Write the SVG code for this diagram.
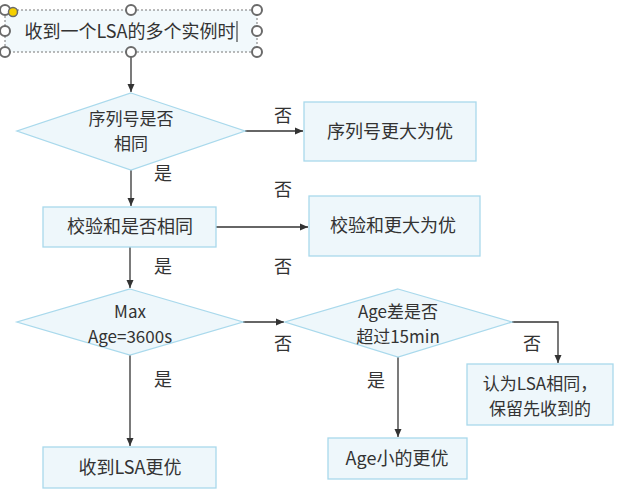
<svg xmlns="http://www.w3.org/2000/svg" width="637" height="495" viewBox="0 0 637 495">
<style>
text{font-family:"Noto Sans CJK SC","Noto Sans",sans-serif;font-size:18px;fill:#333;text-anchor:middle}
.t2{font-size:17px}
.n{fill:#eef7fb;stroke:#a9d9ec;stroke-width:1.3}
.c{fill:none;stroke:#333;stroke-width:1.3}
.h{fill:#fff;stroke:#6a6a6a;stroke-width:2}
</style>
<defs>
<marker id="a" markerWidth="10" markerHeight="10" refX="9" refY="5" orient="auto" markerUnits="userSpaceOnUse">
<path d="M1,1.5 L9,5 L1,8.5 Z" fill="#333"/>
</marker>
</defs>
<rect width="637" height="495" fill="#fff"/>
<g id="connectors">
<path class="c" d="M131,52 V92" marker-end="url(#a)"/>
<path class="c" d="M245,131 H303" marker-end="url(#a)"/>
<path class="c" d="M131,170 V206" marker-end="url(#a)"/>
<path class="c" d="M216,227 H308" marker-end="url(#a)"/>
<path class="c" d="M130,247 V288" marker-end="url(#a)"/>
<path class="c" d="M243,322 H284" marker-end="url(#a)"/>
<path class="c" d="M130,355 V446" marker-end="url(#a)"/>
<path class="c" d="M512,322 H558 V363" marker-end="url(#a)"/>
<path class="c" d="M398,357 V437" marker-end="url(#a)"/>
</g>
<g id="labels">
<text x="283" y="122">否</text>
<text x="163" y="180">是</text>
<text x="283" y="196">否</text>
<text x="163" y="273">是</text>
<text x="283" y="273">否</text>
<text x="283" y="350">否</text>
<text x="163" y="386">是</text>
<text x="532" y="350">否</text>
<text x="376" y="387">是</text>
</g>
<g id="start">
<rect x="5" y="10" width="252" height="42" fill="#f2f9fc" stroke="#777" stroke-width="1" stroke-dasharray="2,2"/>
<text x="130" y="38">收到一个LSA的多个实例时</text>
<line x1="237" y1="21" x2="237" y2="42" stroke="#222" stroke-width="1"/>
<circle class="h" cx="5" cy="10" r="5"/>
<circle class="h" cx="131" cy="10" r="5"/>
<circle class="h" cx="257" cy="10" r="5"/>
<circle class="h" cx="5" cy="31" r="5"/>
<circle class="h" cx="257" cy="31" r="5"/>
<circle class="h" cx="5" cy="52" r="5"/>
<circle class="h" cx="131" cy="52" r="5"/>
<circle class="h" cx="257" cy="52" r="5"/>
<circle cx="13" cy="12" r="4.5" fill="#f5d000" stroke="#6a6a6a" stroke-width="1.5"/>
</g>
<g id="d1">
<polygon class="n" points="131,93 245,131 131,170 17,131"/>
<text class="t2" x="131" y="124.5">序列号是否<tspan x="131" dy="25">相同</tspan></text>
</g>
<g id="r1">
<rect class="n" x="304" y="102" width="172" height="59"/>
<text x="390" y="138">序列号更大为优</text>
</g>
<g id="b2">
<rect class="n" x="43" y="207" width="173" height="40"/>
<text x="130" y="233">校验和是否相同</text>
</g>
<g id="r2">
<rect class="n" x="309" y="196" width="171" height="60"/>
<text x="393" y="232">校验和更大为优</text>
</g>
<g id="d3">
<polygon class="n" points="130,289 243,322 130,355 17,322"/>
<text class="t2" x="130" y="317.5">Max<tspan x="130" dy="25">Age=3600s</tspan></text>
</g>
<g id="d4">
<polygon class="n" points="398,289 512,322 398,357 285,322"/>
<text class="t2" x="398" y="317.5">Age差是否<tspan x="398" dy="25">超过15min</tspan></text>
</g>
<g id="r3">
<rect class="n" x="467" y="364" width="146" height="61"/>
<text class="t2" x="540" y="389.5">认为LSA相同，<tspan x="540" dy="25">保留先收到的</tspan></text>
</g>
<g id="r4">
<rect class="n" x="328" y="438" width="139" height="41"/>
<text x="397" y="465">Age小的更优</text>
</g>
<g id="r5">
<rect class="n" x="43" y="447" width="173" height="41"/>
<text x="130" y="474">收到LSA更优</text>
</g>
</svg>
